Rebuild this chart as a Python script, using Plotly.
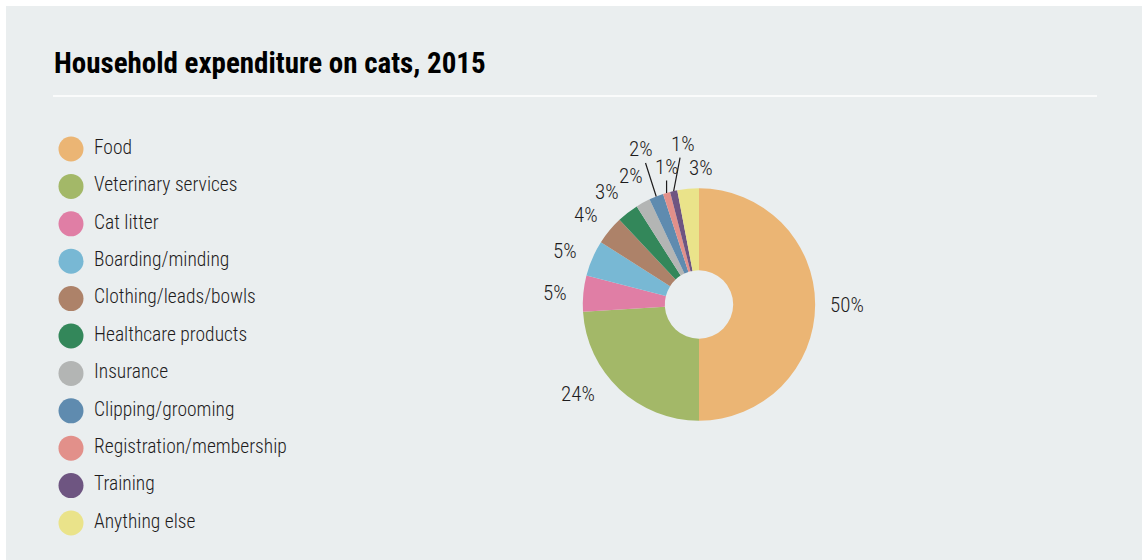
import math
import plotly.graph_objects as go

# Household spending on cats, 2015 (share of total, %)
categories = [
    "Food",
    "Veterinary services",
    "Cat litter",
    "Boarding/minding",
    "Clothing/leads/bowls",
    "Healthcare products",
    "Insurance",
    "Clipping/grooming",
    "Registration/membership",
    "Training",
    "Anything else",
]
shares = [50, 24, 5, 5, 4, 3, 2, 2, 1, 1, 3]
colors = [
    "#EBB574", "#A3B868", "#E07EA5", "#78B8D4", "#AD8269", "#33875A",
    "#B3B5B4", "#5F8BAF", "#E2908A", "#6E5581", "#EAE38A",
]

# Label offsets (pixels) from each slice's outer edge, and whether a leader line is drawn
label_offsets = {
    "Food": (32, 0, False),
    "Veterinary services": (-41, 5, False),
    "Cat litter": (-28, -1, False),
    "Boarding/minding": (-27, -7, False),
    "Clothing/leads/bowls": (-23, -15, False),
    "Healthcare products": (-21, -21, False),
    "Insurance": (-12, -27, False),
    "Clipping/grooming": (-15, -47, True),
    "Registration/membership": (0, -26, True),
    "Training": (9, -47, True),
    "Anything else": (13, -21, False),
}

W, H = 1143, 560
CX, CY, R = 699, 304.5, 116.2
BG = "#EAEEEF"
TEXT = "#1E1C1D"
FONT = "Roboto Condensed, Open Sans Condensed, sans-serif"


def px(x):
    return x / W


def py(y):
    return 1 - y / H


fig = go.Figure()

fig.add_trace(go.Pie(
    values=shares,
    labels=categories,
    sort=False,
    direction="clockwise",
    rotation=0,
    hole=34.2 / R,
    marker=dict(colors=colors, line=dict(width=0)),
    textinfo="none",
    hoverinfo="label+percent",
    showlegend=False,
    domain=dict(x=[px(CX - R), px(CX + R)], y=[py(CY + R), py(CY - R)]),
))

# Legend drawn as a scatter of round markers with their names
fig.add_trace(go.Scatter(
    x=[71] * len(categories),
    y=categories,
    mode="markers",
    marker=dict(size=25, color=colors, line=dict(width=0)),
    hoverinfo="skip",
    showlegend=False,
    xaxis="x", yaxis="y",
))
fig.add_trace(go.Scatter(
    x=[94] * len(categories),
    y=categories,
    mode="text",
    text=categories,
    textposition="middle right",
    textfont=dict(family=FONT, size=19.5, color=TEXT, weight=300),
    hoverinfo="skip",
    showlegend=False,
    xaxis="x", yaxis="y",
))

# Percentage labels around the ring
annotations = []
total = sum(shares)
cum = 0
for cat, val in zip(categories, shares):
    mid = (cum + val / 2) / total * 2 * math.pi
    cum += val
    ex = CX + R * math.sin(mid)
    ey = CY - R * math.cos(mid)
    dx, dy, line = label_offsets[cat]
    annotations.append(dict(
        x=px(ex), y=py(ey), xref="paper", yref="paper",
        ax=dx, ay=dy, axref="pixel", ayref="pixel",
        text=f"{val}%",
        showarrow=True, arrowhead=0, arrowwidth=1.2, standoff=0,
        arrowcolor=TEXT if line else "rgba(0,0,0,0)",
        font=dict(family=FONT, size=21, color=TEXT, weight=300),
    ))

annotations.append(dict(
    x=px(52), y=py(63), xref="paper", yref="paper",
    xanchor="left", yanchor="middle", showarrow=False,
    text="<b>Household expenditure on cats, 2015</b>",
    font=dict(family=FONT, size=29, color="#000000"),
))

legend_top, legend_bottom = 130.3, 541.7
n = len(categories)

fig.update_layout(
    width=W, height=H,
    margin=dict(l=0, r=0, t=0, b=0),
    paper_bgcolor="#FFFFFF",
    plot_bgcolor="rgba(0,0,0,0)",
    xaxis=dict(domain=[0, px(400)], range=[0, 400], visible=False, fixedrange=True),
    yaxis=dict(domain=[py(legend_bottom), py(legend_top)], type="category",
               categoryorder="array", categoryarray=categories,
               range=[n - 0.5, -0.5], visible=False, fixedrange=True),
    annotations=annotations,
    shapes=[
        dict(type="rect", xref="paper", yref="paper", layer="below",
             x0=px(6), x1=px(1142), y0=0, y1=py(6),
             fillcolor=BG, line=dict(width=0)),
        dict(type="line", xref="paper", yref="paper",
             x0=px(53), x1=px(1097), y0=py(96), y1=py(96),
             line=dict(color="#FFFFFF", width=1.5)),
    ],
    hovermode="closest",
)

fig.write_html("out.html")
